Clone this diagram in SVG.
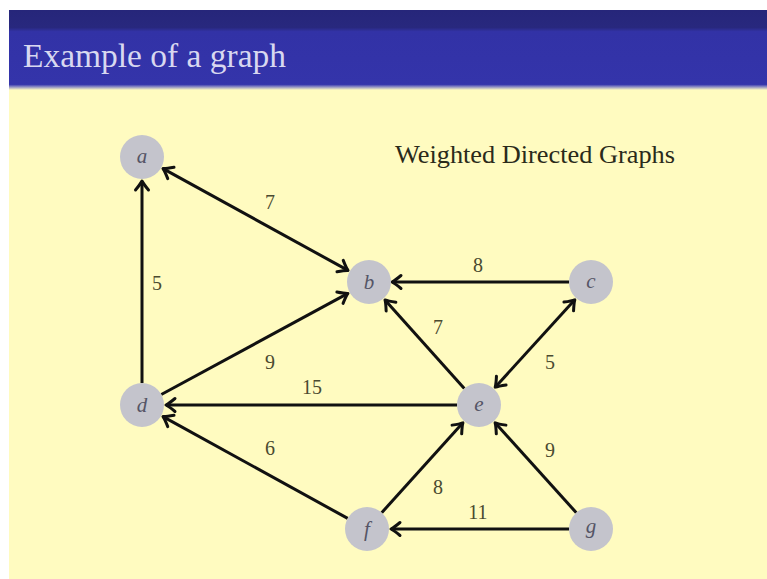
<svg xmlns="http://www.w3.org/2000/svg" width="767" height="579" viewBox="0 0 767 579">
<style>
.node circle{fill:#c4c4cc;}
.node text{font-family:"Liberation Serif",serif;font-style:italic;font-size:21px;fill:#555566;text-anchor:middle;}
.edge{stroke:#111;stroke-width:3;fill:none;marker-end:url(#arr);}
.both{marker-start:url(#arr);}
.lbl{font-family:"Liberation Serif",serif;font-size:20px;fill:#4a4a30;text-anchor:middle;}
</style>
<defs>
<marker id="arr" markerUnits="userSpaceOnUse" markerWidth="20" markerHeight="20" viewBox="-12 -10 14 20" refX="0" refY="0" orient="auto-start-reverse">
<path d="M-9,-6.5 Q-3,-1.5 0,0 Q-3,1.5 -9,6.5" stroke="#111" stroke-width="3" fill="none" stroke-linecap="round" stroke-linejoin="round"/>
</marker>
<linearGradient id="hdr" gradientUnits="userSpaceOnUse" x1="0" y1="10" x2="0" y2="90">
<stop offset="0" stop-color="#26267a"/>
<stop offset="0.22" stop-color="#28287e"/>
<stop offset="0.27" stop-color="#3232a6"/>
<stop offset="0.93" stop-color="#3434aa"/>
<stop offset="0.96" stop-color="#8a8ac4"/>
<stop offset="1" stop-color="#fffbc0"/>
</linearGradient>
</defs>
<rect x="0" y="0" width="767" height="579" fill="#ffffff"/>
<rect x="9" y="10" width="758" height="569" fill="#fffbc0"/>
<rect x="9" y="10" width="758" height="80" fill="url(#hdr)"/>
<text x="23" y="67" font-family="Liberation Serif,serif" font-size="34" fill="#d8d8f0" textLength="263" lengthAdjust="spacingAndGlyphs">Example of a graph</text>
<text x="395" y="163" font-family="Liberation Serif,serif" font-size="26" fill="#2a2a1a" textLength="280" lengthAdjust="spacingAndGlyphs">Weighted Directed Graphs</text>
<g id="connectors">
<line class="edge both" x1="163" y1="168.6" x2="348" y2="270.4"/>
<line class="edge" x1="142" y1="383" x2="142" y2="181"/>
<line class="edge" x1="161.3" y1="394.5" x2="347.9" y2="293.4"/>
<line class="edge" x1="569" y1="282" x2="392" y2="282"/>
<line class="edge" x1="464.3" y1="388.6" x2="385" y2="299.9"/>
<line class="edge both" x1="574.8" y1="299.8" x2="495.2" y2="387.2"/>
<line class="edge" x1="457" y1="405" x2="166" y2="405"/>
<line class="edge" x1="347.7" y1="518.4" x2="163" y2="416.6"/>
<line class="edge" x1="381.7" y1="512.7" x2="462.9" y2="422.8"/>
<line class="edge" x1="576.3" y1="512.7" x2="495.1" y2="422.8"/>
<line class="edge" x1="569" y1="529" x2="391" y2="529"/>
<text class="lbl" x="270" y="209">7</text>
<text class="lbl" x="157" y="290">5</text>
<text class="lbl" x="270" y="369">9</text>
<text class="lbl" x="478" y="272">8</text>
<text class="lbl" x="438" y="334">7</text>
<text class="lbl" x="550" y="369">5</text>
<text class="lbl" x="312" y="394">15</text>
<text class="lbl" x="270" y="455">6</text>
<text class="lbl" x="438" y="494">8</text>
<text class="lbl" x="550" y="457">9</text>
<text class="lbl" x="478" y="519">11</text>
</g>
<g id="node-a" class="node"><circle cx="142" cy="157" r="22"/><text x="142" y="163">a</text></g>
<g id="node-b" class="node"><circle cx="369" cy="282" r="22"/><text x="369" y="289">b</text></g>
<g id="node-c" class="node"><circle cx="591" cy="282" r="22"/><text x="591" y="288">c</text></g>
<g id="node-d" class="node"><circle cx="142" cy="405" r="22"/><text x="142" y="412">d</text></g>
<g id="node-e" class="node"><circle cx="479" cy="405" r="22"/><text x="479" y="411">e</text></g>
<g id="node-f" class="node"><circle cx="367" cy="529" r="22"/><text x="367" y="536">f</text></g>
<g id="node-g" class="node"><circle cx="591" cy="529" r="22"/><text x="591" y="533">g</text></g>
</svg>
